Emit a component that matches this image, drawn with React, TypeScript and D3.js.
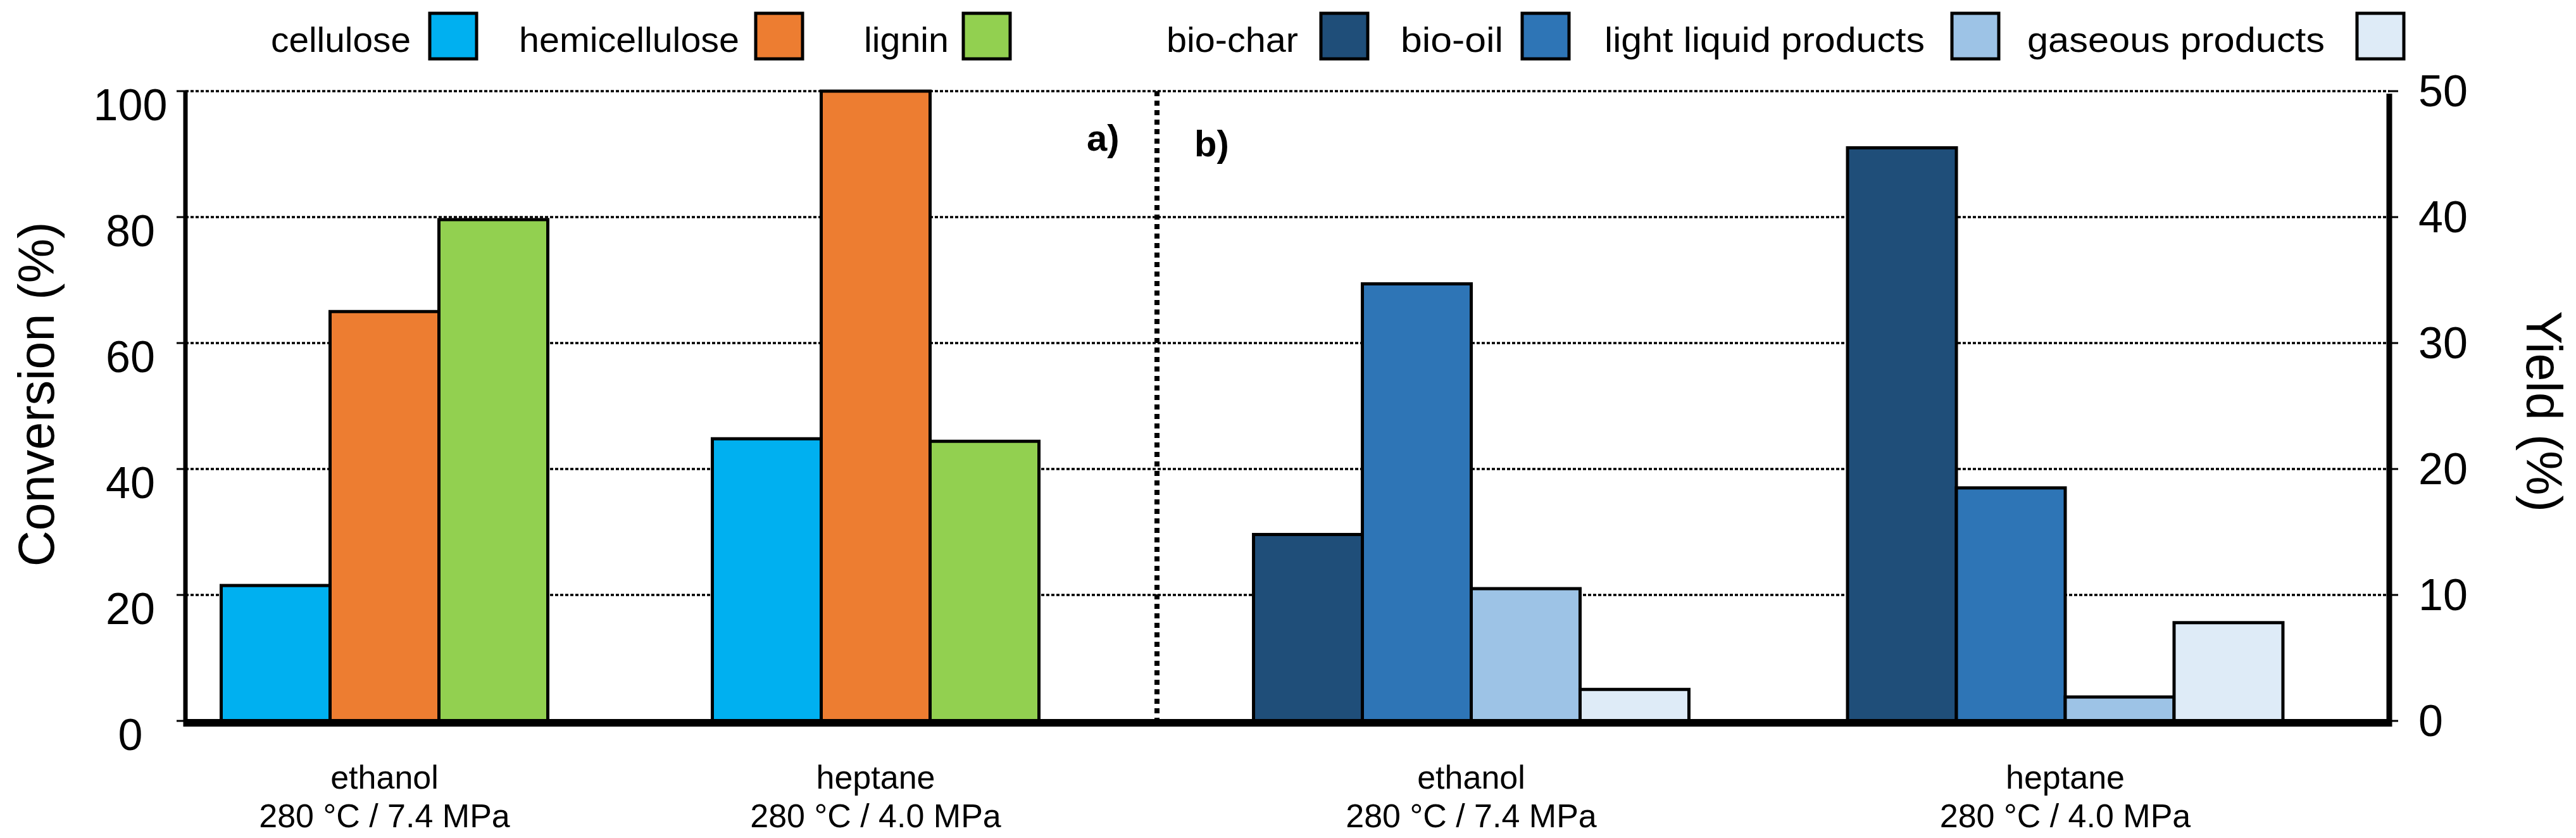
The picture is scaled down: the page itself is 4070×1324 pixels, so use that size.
import * as d3 from "d3";

const conditions = ["ethanol|280 °C / 7.4 MPa", "heptane|280 °C / 4.0 MPa"];

const fractions = ["cellulose", "hemicellulose", "lignin"];
const fractionColors = ["#00B0F0", "#ED7D31", "#92D050"];
// conversion (%) per condition, in the order of `fractions`
const conversionEthanol = [21.5, 65, 79.6];
const conversionHeptane = [44.8, 100, 44.4];

const products = ["bio-char", "bio-oil", "light liquid products", "gaseous products"];
const productColors = ["#1F4E79", "#2E75B6", "#9DC3E6", "#DEEBF7"];
// yield (%) per condition, in the order of `products`
const yieldEthanol = [14.8, 34.7, 10.5, 2.5];
const yieldHeptane = [45.5, 18.5, 1.9, 7.8];

const conversionTicks = [0, 20, 40, 60, 80, 100];
const yieldTicks = [0, 10, 20, 30, 40, 50];

const W = 4070;
const H = 1324;
const FONT = "'Liberation Sans', Arial, sans-serif";

export default function App() {
  const top = 144;
  const bottom = 1139;
  const left = 293;
  const right = 3775;
  const divider = 1828;

  const yConv = d3.scaleLinear().domain([0, 100]).range([bottom, top]);
  const yYield = d3.scaleLinear().domain([0, 50]).range([bottom, top]);

  // panel a) categories
  const xA = d3
    .scaleBand()
    .domain(conditions)
    .range([219.5, 1771.5])
    .paddingInner(0.335)
    .paddingOuter(0.1675);
  const xAInner = d3.scaleBand().domain(fractions).range([0, xA.bandwidth()]);

  // panel b) categories
  const xB = d3
    .scaleBand()
    .domain(conditions)
    .range([1855.25, 3732.25])
    .paddingInner(0.267)
    .paddingOuter(0.1335);
  const xBInner = d3.scaleBand().domain(products).range([0, xB.bandwidth()]);

  const convRows = [conversionEthanol, conversionHeptane];
  const yieldRows = [yieldEthanol, yieldHeptane];

  // legend layout: [text start, text end, swatch x]
  const legendItems = [
    ...fractions.map((f, i) => ({ label: f, color: fractionColors[i] })),
    ...products.map((p, i) => ({ label: p, color: productColors[i] })),
  ];
  const legendPos = [
    [428, 649, 679],
    [820, 1168, 1194],
    [1365, 1499, 1522],
    [1843, 2051, 2087],
    [2213, 2375, 2405],
    [2535, 3041, 3084],
    [3203, 3673, 3724],
  ];

  return (
    <div style={{ position: "absolute", left: 0, top: 0, background: "#fff" }}>
      <svg width={W} height={H} viewBox={`0 0 ${W} ${H}`} style={{ display: "block", fontFamily: FONT }}>
        <rect width={W} height={H} fill="#fff" />

        {/* legend */}
        {legendItems.map((d, i) => {
          const [x0, x1, sx] = legendPos[i];
          return (
            <g key={d.label}>
              <text
                x={x0}
                y={82}
                fontSize={55}
                textLength={x1 - x0}
                lengthAdjust="spacingAndGlyphs"
              >
                {d.label}
              </text>
              <rect x={sx} y={21} width={74} height={72} fill={d.color} stroke="#000" strokeWidth={5} />
            </g>
          );
        })}

        {/* grid lines */}
        {conversionTicks
          .filter((t) => t > 0)
          .map((t) => (
            <line
              key={t}
              x1={left}
              x2={right}
              y1={yConv(t)}
              y2={yConv(t)}
              stroke="#000"
              strokeWidth={3.5}
              strokeDasharray="5,3"
            />
          ))}

        {/* divider between panels */}
        <line
          x1={divider}
          x2={divider}
          y1={top}
          y2={bottom}
          stroke="#000"
          strokeWidth={8}
          strokeDasharray="8,7"
        />

        {/* panel a) bars */}
        {conditions.map((c, ci) =>
          fractions.map((f, fi) => (
            <rect
              key={`${c}-${f}`}
              x={xA(c)! + xAInner(f)!}
              y={yConv(convRows[ci][fi])}
              width={xAInner.bandwidth()}
              height={bottom - yConv(convRows[ci][fi])}
              fill={fractionColors[fi]}
              stroke="#000"
              strokeWidth={5}
            />
          )),
        )}

        {/* panel b) bars */}
        {conditions.map((c, ci) =>
          products.map((p, pi) => (
            <rect
              key={`${c}-${p}`}
              x={xB(c)! + xBInner(p)!}
              y={yYield(yieldRows[ci][pi])}
              width={xBInner.bandwidth()}
              height={bottom - yYield(yieldRows[ci][pi])}
              fill={productColors[pi]}
              stroke="#000"
              strokeWidth={5}
            />
          )),
        )}

        {/* axes lines */}
        <line x1={left} x2={right} y1={1142} y2={1142} stroke="#000" strokeWidth={12} />
        <line x1={left} x2={left} y1={top} y2={1148} stroke="#000" strokeWidth={7} />
        <line x1={right} x2={right} y1={148} y2={1148} stroke="#000" strokeWidth={9} />

        {/* left axis */}
        {conversionTicks.map((t) => (
          <g key={t}>
            <line x1={left - 14} x2={left} y1={yConv(t)} y2={yConv(t)} stroke="#000" strokeWidth={3} />
            <text x={206} y={yConv(t) + 46} fontSize={70} textAnchor="middle">
              {t}
            </text>
          </g>
        ))}
        <text
          transform={`translate(85,623) rotate(-90)`}
          fontSize={79}
          textAnchor="middle"
        >
          Conversion (%)
        </text>

        {/* right axis */}
        {yieldTicks.map((t) => (
          <g key={t}>
            <line x1={right} x2={right + 14} y1={yYield(t)} y2={yYield(t)} stroke="#000" strokeWidth={3} />
            <text x={3821} y={yYield(t)} fontSize={70} dominantBaseline="central">
              {t}
            </text>
          </g>
        ))}
        <text
          transform={`translate(3992,650) rotate(90)`}
          fontSize={79}
          textAnchor="middle"
        >
          Yield (%)
        </text>

        {/* panel tags */}
        <text x={1717} y={238} fontSize={58} fontWeight="bold">
          a)
        </text>
        <text x={1887} y={247} fontSize={58} fontWeight="bold">
          b)
        </text>

        {/* category labels */}
        {[xA, xB].map((scale, si) =>
          conditions.map((c) => {
            const [solvent, cond] = c.split("|");
            const cx = scale(c)! + scale.bandwidth() / 2;
            return (
              <text key={`${si}-${c}`} x={cx} textAnchor="middle" fontSize={52}>
                <tspan x={cx} y={1246}>
                  {solvent}
                </tspan>
                <tspan x={cx} y={1307}>
                  {cond}
                </tspan>
              </text>
            );
          }),
        )}
      </svg>
    </div>
  );
}
